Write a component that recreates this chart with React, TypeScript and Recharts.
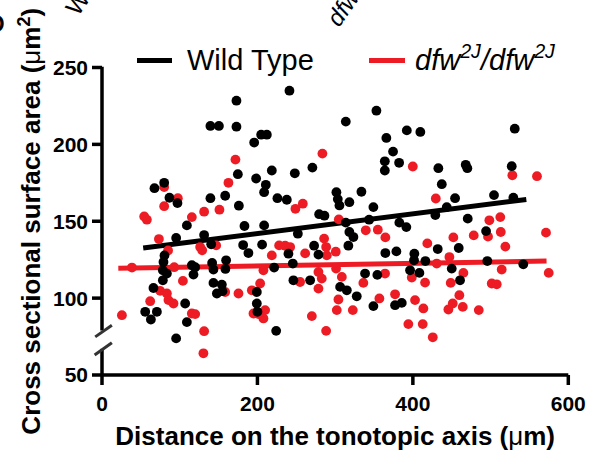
import { ScatterChart, Scatter, XAxis, YAxis, ReferenceLine, Legend, Customized } from 'recharts'

// distance along the tonotopic axis (µm) and cross-sectional area (µm²)
const wildTypeX = [
  241.2, 173.0, 139.5, 150.4, 173.0, 195.8, 204.8, 212.1, 174.8, 198.3, 218.5, 248.1, 67.5, 80.0, 86.8, 97.1,
  139.5, 158.5, 176.1, 210.8, 208.6, 225.7, 237.8, 109.2, 183.3, 208.6, 95.4, 131.4, 140.5, 181.6, 188.4, 206.0,
  239.9, 252.0, 353.1, 313.7, 392.2, 409.6, 531.1, 365.9, 374.5, 363.9, 363.9, 382.3, 270.7, 432.8, 468.0, 470.1,
  527.2, 437.2, 301.6, 303.4, 305.5, 318.3, 333.8, 349.2, 504.4, 529.3, 454.3, 279.4, 286.2, 313.7, 343.7, 382.6,
  391.6, 428.9, 443.6, 470.6, 494.2, 318.3, 323.5, 317.0, 272.9, 278.5, 364.6, 378.8, 432.0, 401.9, 459.0, 80.4,
  79.1, 78.3, 83.5, 78.3, 66.2, 55.6, 70.6, 62.9, 95.4, 107.0, 109.2, 115.6, 119.9, 117.7, 141.7, 143.4,
  159.7, 158.8, 143.4, 154.2, 147.8, 155.0, 199.2, 199.2, 200.0, 224.1, 221.5, 245.5, 246.3, 267.8, 306.4, 315.0,
  327.8, 338.5, 354.3, 349.2, 377.1, 385.7, 401.5, 396.4, 408.4, 416.1, 450.0, 460.7, 495.8, 542.1,
]
const wildTypeY = [
  234.9, 228.4, 212.0, 212.0, 211.5, 201.2, 206.3, 206.3, 180.6, 177.8, 183.0, 181.2, 171.5, 175.0, 165.3, 161.8,
  165.0, 166.6, 160.1, 173.7, 168.9, 165.0, 164.0, 147.3, 146.9, 147.3, 139.1, 141.0, 135.0, 134.5, 129.3, 134.8,
  128.9, 141.9, 221.9, 214.8, 209.1, 208.1, 210.2, 204.2, 195.3, 189.0, 183.0, 188.0, 184.9, 184.5, 186.7, 184.5,
  185.8, 174.1, 168.9, 164.4, 160.3, 162.4, 169.2, 159.2, 167.0, 165.3, 165.0, 154.6, 153.6, 149.1, 151.0, 149.1,
  146.2, 154.0, 159.2, 151.7, 143.6, 143.0, 139.7, 134.1, 134.1, 128.3, 129.3, 130.4, 131.9, 128.9, 132.6, 127.8,
  123.5, 118.1, 116.0, 111.6, 106.6, 91.1, 91.1, 86.1, 73.8, 96.5, 84.4, 121.4, 120.1, 115.3, 122.9, 118.6,
  124.6, 119.0, 109.9, 108.8, 103.0, 104.5, 104.0, 96.5, 91.1, 78.7, 119.9, 122.5, 111.6, 111.6, 107.3, 105.1,
  101.2, 116.0, 115.1, 94.8, 95.4, 96.9, 124.6, 118.1, 116.4, 124.1, 119.2, 111.6, 124.1, 122.0,
]
const dfwX = [
  171.7, 162.7, 80.0, 80.0, 97.6, 54.3, 57.7, 115.6, 131.4, 151.1, 73.2, 126.3, 128.9, 146.9, 218.5, 227.9,
  235.6, 242.1, 248.9, 258.4, 283.6, 399.9, 528.0, 559.7, 429.5, 304.7, 339.4, 354.9, 364.6, 498.4, 512.5, 513.1,
  496.7, 478.3, 452.1, 571.3, 519.0, 418.6, 285.8, 288.4, 261.4, 300.8, 25.6, 38.5, 62.0, 74.9, 83.5, 85.5,
  92.0, 104.1, 115.6, 119.9, 131.4, 130.5, 158.5, 175.6, 192.8, 194.9, 201.3, 207.7, 209.9, 203.5, 207.7, 289.3,
  278.5, 282.8, 278.5, 254.9, 270.0, 288.4, 301.2, 308.6, 304.2, 302.1, 322.7, 336.3, 356.9, 364.2, 377.1, 394.2,
  398.6, 402.8, 413.5, 412.7, 415.7, 425.6, 430.7, 447.0, 448.7, 465.0, 459.8, 451.3, 445.7, 464.2, 484.8, 501.5,
  507.9, 514.3, 574.8, 92.9, 85.0,
]
const dfwY = [
  190.1, 175.0, 172.2, 159.8, 165.0, 153.1, 151.0, 152.7, 156.2, 157.5, 138.4, 133.2, 131.1, 134.3, 127.8, 134.3,
  134.1, 133.2, 158.1, 161.4, 194.0, 185.6, 179.9, 179.3, 164.8, 151.2, 144.1, 144.5, 139.5, 150.6, 152.7, 143.0,
  140.0, 140.8, 139.5, 142.6, 133.5, 135.6, 138.7, 133.2, 129.1, 130.2, 88.9, 119.9, 98.0, 104.7, 103.0, 98.7,
  96.5, 111.2, 90.0, 89.6, 78.5, 64.1, 104.0, 103.0, 105.1, 90.0, 89.6, 86.8, 92.2, 109.5, 118.1, 127.8,
  117.0, 112.7, 106.2, 110.5, 88.3, 78.7, 119.2, 113.8, 99.1, 92.2, 92.2, 109.9, 99.8, 116.0, 102.5, 83.1,
  113.4, 98.7, 93.3, 83.1, 110.1, 74.5, 122.5, 126.7, 109.9, 116.4, 101.9, 96.5, 92.6, 94.3, 92.2, 109.5,
  109.0, 118.6, 116.4, 120.1, 131.0,
]

// linear regression lines (end points)
const wildTypeFit = [
  { x: 53, y: 132.6 },
  { x: 546, y: 164.2 },
]
const dfwFit = [
  { x: 21, y: 119.4 },
  { x: 572, y: 124.1 },
]

const xTicks = [0, 200, 400, 600]
const yTicks = [50, 100, 150, 200, 250]

const BLACK = '#000000'
const RED = '#ED1C24'
const AXIS_W = 3.5

const wildTypeData = wildTypeX.map((x, i) => ({ x, y: wildTypeY[i] }))
const dfwData = dfwX.map((x, i) => ({ x, y: dfwY[i] }))

const Sup = ({ children }: { children: string }) => (
  <sup style={{ fontSize: '0.68em', verticalAlign: '0.6em', lineHeight: 0 }}>{children}</sup>
)

function LegendContent() {
  const text = { position: 'absolute' as const, top: 46, fontSize: 29, lineHeight: '29px', whiteSpace: 'nowrap' as const, color: '#000' }
  return (
    <div style={{ position: 'relative', width: 589, height: 100 }}>
      <div style={{ position: 'absolute', left: 137, top: 57.5, width: 35, height: 5, background: BLACK }} />
      <span style={{ ...text, left: 187 }}>Wild Type</span>
      <div style={{ position: 'absolute', left: 369, top: 57.5, width: 36, height: 5, background: RED }} />
      <span style={{ ...text, left: 415, fontStyle: 'italic' }}>
        dfw<Sup>2J</Sup>/dfw<Sup>2J</Sup>
      </span>
    </div>
  )
}

function XTitle(props: any) {
  const { viewBox } = props
  const cx = viewBox.x + viewBox.width / 2
  const y = viewBox.y + viewBox.height - 10
  return (
    <text x={cx} y={y} textAnchor="middle" fontSize={26} fontWeight="bold" fill="#000">
      Distance on the tonotopic axis (<tspan fontWeight="normal">μ</tspan>m)
    </text>
  )
}

function YTitle(props: any) {
  const { viewBox } = props
  const cy = viewBox.y + viewBox.height / 2
  const x = 39.5
  return (
    <text x={x} y={cy} transform={`rotate(-90, ${x}, ${cy})`} textAnchor="middle" fontSize={26} fontWeight="bold" fill="#000">
      Cross sectional surface area (<tspan fontWeight="normal">μ</tspan>m
      <tspan dy={-10} fontSize={18}>2</tspan>
      <tspan dy={10}>)</tspan>
    </text>
  )
}

// cut-off labels of the panel above and the panel letter
function Extras() {
  return (
    <g fill="#000">
      <text x={-12} y={32} fontSize={23} fontWeight="bold">D</text>
      <text x={78} y={17} transform="rotate(-55, 78, 17)" fontSize={24}>Wild Type</text>
      <text x={339} y={28} transform="rotate(-55, 339, 28)" fontSize={24} fontStyle="italic">
        dfw<tspan dy={-9} fontSize={15}>2J</tspan><tspan dy={9}>/dfw</tspan>
      </text>
    </g>
  )
}

const axisStroke = { stroke: BLACK, strokeWidth: AXIS_W }

export default function App() {
  return (
    <div
      style={{
        position: 'absolute',
        left: 0,
        top: 0,
        width: 589,
        height: 455,
        overflow: 'hidden',
        background: '#fff',
        fontFamily: '"Liberation Sans", Arial, sans-serif',
      }}
    >
      <ScatterChart width={589} height={455} margin={{ top: 67.5, right: 20.7, bottom: 0, left: 0 }}>
        <XAxis
          type="number"
          dataKey="x"
          domain={[0, 600]}
          ticks={xTicks}
          height={80}
          axisLine={axisStroke}
          tickLine={axisStroke}
          tickSize={10}
          tickMargin={11}
          tick={{ fontSize: 21, fontWeight: 'bold', fill: '#000' }}
          label={<XTitle />}
        />
        <YAxis
          type="number"
          dataKey="y"
          domain={[50, 250]}
          ticks={yTicks}
          width={102}
          axisLine={false}
          tickLine={axisStroke}
          tickSize={10}
          tickMargin={4}
          tick={{ fontSize: 21, fontWeight: 'bold', fill: '#000' }}
          label={<YTitle />}
        />

        {/* y axis drawn in two pieces with a break */}
        <ReferenceLine segment={[{ x: 0, y: 50 }, { x: 0, y: 67 }]} stroke={BLACK} strokeWidth={AXIS_W} ifOverflow="visible" />
        <ReferenceLine segment={[{ x: 0, y: 79 }, { x: 0, y: 250.5 }]} stroke={BLACK} strokeWidth={AXIS_W} ifOverflow="visible" />
        <ReferenceLine segment={[{ x: -8.7, y: 74.8 }, { x: 12.7, y: 82.3 }]} stroke="#333" strokeWidth={3} ifOverflow="visible" />
        <ReferenceLine segment={[{ x: -9.5, y: 63 }, { x: 12.7, y: 71 }]} stroke="#333" strokeWidth={3} ifOverflow="visible" />

        <Scatter name="dfw" data={dfwData} fill={RED} shape={(p: any) => <circle cx={p.cx} cy={p.cy} r={4.9} fill={RED} />} isAnimationActive={false} />
        <ReferenceLine segment={dfwFit} stroke={RED} strokeWidth={5} />
        <Scatter name="Wild Type" data={wildTypeData} fill={BLACK} shape={(p: any) => <circle cx={p.cx} cy={p.cy} r={4.9} fill={BLACK} />} isAnimationActive={false} />
        <ReferenceLine segment={wildTypeFit} stroke={BLACK} strokeWidth={5} />

        <Legend
          layout="horizontal"
          verticalAlign="middle"
          align="center"
          content={() => <LegendContent />}
          wrapperStyle={{ position: 'absolute', left: 0, top: 0, width: 589, height: 100 }}
        />
        <Customized component={<Extras />} />
      </ScatterChart>
    </div>
  )
}
